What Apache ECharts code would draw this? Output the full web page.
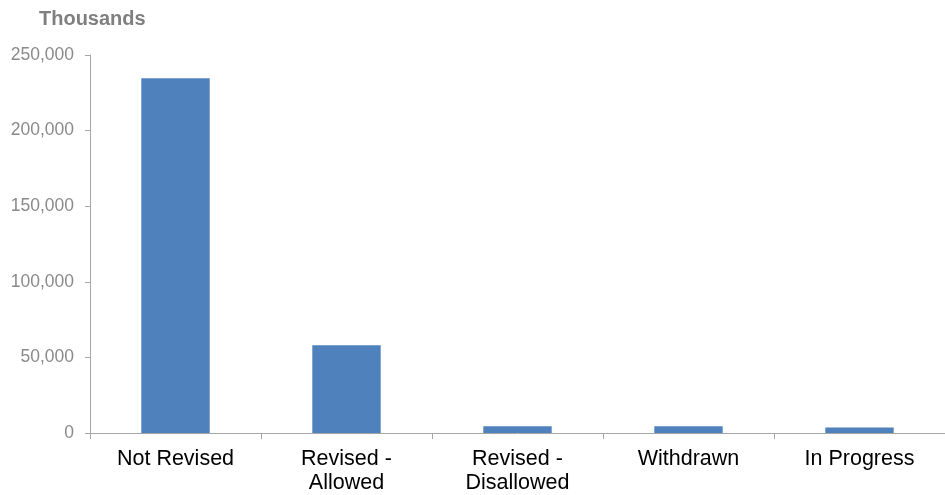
<!DOCTYPE html>
<html>
<head>
<meta charset="utf-8">
<script src="https://cdn.jsdelivr.net/npm/echarts@6/dist/echarts.min.js"></script>
<style>html,body{margin:0;padding:0;background:#fff;overflow:hidden;}#c{width:945px;height:495px;}</style>
</head>
<body>
<div id="c"></div>
<script>
var categories = ['Not Revised', 'Revised -\nAllowed', 'Revised -\nDisallowed', 'Withdrawn', 'In Progress'];
var values = [234600, 58100, 4400, 4400, 3700];
var yTicks = [0, 50000, 100000, 150000, 200000, 250000];

var chart = echarts.init(document.getElementById('c'));
chart.setOption({
  animation: false,
  title: {
    text: 'Thousands', left: 34, top: 4,
    textStyle: {fontFamily: 'Liberation Sans', fontSize: 20, fontWeight: 'bold', color: '#7f7f7f'}
  },
  grid: {left: 90, right: -6, top: 55, bottom: 62},
  xAxis: {
    type: 'category', data: categories, boundaryGap: true,
    axisLine: {lineStyle: {color: '#a6a6a6', width: 1}},
    axisTick: {show: true, length: 6, lineStyle: {color: '#a6a6a6'}},
    axisLabel: {fontFamily: 'Liberation Sans', fontSize: 21.5, color: '#000', margin: 14, lineHeight: 24, interval: 0}
  },
  yAxis: {
    type: 'value', min: yTicks[0], max: yTicks[yTicks.length - 1], interval: 50000,
    axisLine: {show: true, lineStyle: {color: '#a6a6a6', width: 1}},
    axisTick: {show: true, length: 5, lineStyle: {color: '#a6a6a6'}},
    splitLine: {show: false},
    axisLabel: {
      fontFamily: 'Liberation Sans', fontSize: 17.5, color: '#8a8a8a', margin: 16,
      formatter: function (v) { return v.toLocaleString('en-US'); }
    }
  },
  series: [{
    type: 'bar', data: values, barWidth: '40%',
    itemStyle: {color: '#4F81BD'}
  }]
});
</script>
</body>
</html>
